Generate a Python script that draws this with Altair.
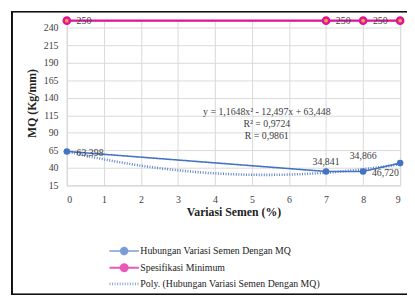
import altair as alt
import pandas as pd

# ---- data ----
variasi = [0, 7, 8, 9]
mq = [63.398, 34.841, 34.866, 46.720]
mq_labels = ["63,398", "34,841", "34,866", "46,720"]
spesifikasi = [250, 250, 250, 250]
spes_labels = ["250", "250", "250", "250"]

S1 = "Hubungan Variasi Semen Dengan MQ"
S2 = "Spesifikasi Minimum"
S3 = "Poly. (Hubungan Variasi Semen Dengan MQ)"
series_names = [S1, S2, S3]

eq_lines = ["y = 1,1648x² - 12,497x + 63,448", "R² = 0,9724", "R = 0,9861"]
eq_x = [5.4, 5.4, 5.4]
eq_y = [120, 102.5, 85]

y_ticks = [15, 40, 65, 90, 115, 140, 165, 190, 215, 240]
x_ticks = list(range(10))

BLUE = "#4472C4"
PINK = "#E0129A"
FONT = "Liberation Serif"
TXT = "#404040"

df = pd.DataFrame(
    {
        "x": variasi * 2,
        "y": mq + spesifikasi,
        "label": mq_labels + spes_labels,
        "series": [S1] * 4 + [S2] * 4,
        "idx": list(range(4)) * 2,
    }
)
df_eq = pd.DataFrame({"x": eq_x, "y": eq_y, "t": eq_lines})

PATH_LC = "M-3,0L3,0M-0.7,0A0.7,0.7,0,1,0,0.7,0A0.7,0.7,0,1,0,-0.7,0Z"
PATH_L = "M-3,0L3,0"

xs = alt.X(
    "x:Q",
    scale=alt.Scale(domain=[0, 9], nice=False),
    axis=alt.Axis(
        values=x_ticks, title="Variasi Semen (%)", format="d", tickSize=0,
        labelPadding=9, titlePadding=3, grid=True, gridColor="#D9D9D9",
        domainColor="#D9D9D9", labelFont=FONT, labelFontSize=10, labelColor=TXT,
        titleFont=FONT, titleFontSize=12, titleFontWeight="bold", titleColor="#222",
    ),
)
ys = alt.Y(
    "y:Q",
    scale=alt.Scale(domain=[15, 250], nice=False, zero=False),
    axis=alt.Axis(
        values=y_ticks, title="MQ (Kg/mm)", tickSize=0, labelPadding=9,
        titlePadding=5, grid=True, gridColor="#D9D9D9", domainColor="#D9D9D9",
        labelFont=FONT, labelFontSize=10, labelColor=TXT,
        titleFont=FONT, titleFontSize=12, titleFontWeight="bold", titleColor="#222",
    ),
)

legend = alt.Legend(
    title=None, orient="none", legendX=52, legendY=229, direction="vertical",
    labelFont=FONT, labelFontSize=10, labelColor="#222", labelOffset=10,
    symbolSize=100, rowPadding=1.5, labelLimit=400,
)
color = alt.Color(
    "series:N", scale=alt.Scale(domain=series_names, range=[BLUE, PINK, "#5B84CC"]),
    legend=legend,
)
dash = alt.StrokeDash(
    "series:N", scale=alt.Scale(domain=series_names, range=[[1, 0], [1, 0], [1, 1.6]]),
    legend=legend,
)
swidth = alt.StrokeWidth(
    "series:N", scale=alt.Scale(domain=series_names, range=[1.6, 2.6, 1.0]),
    legend=legend,
)
shape = alt.Shape(
    "series:N", scale=alt.Scale(domain=series_names, range=[PATH_LC, PATH_LC, PATH_L]),
    legend=legend,
)

base = alt.Chart(df)

poly = (
    alt.Chart(df)
    .transform_filter(alt.datum.series == S1)
    .transform_regression("x", "y", method="poly", order=2, extent=[0, 9])
    .transform_calculate(series=f"'{S3}'")
    .mark_line(clip=True)
    .encode(x=xs, y=ys, color=color, strokeDash=dash, strokeWidth=swidth)
)

lines = base.mark_line().encode(x=xs, y=ys, color=color, strokeDash=dash, strokeWidth=swidth)

pts_blue = base.transform_filter(alt.datum.series == S1).mark_point(
    filled=True, size=45, opacity=1, color=BLUE
).encode(x=xs, y=ys)
pts_pink = base.transform_filter(alt.datum.series == S2).mark_point(
    filled=True, size=40, opacity=1, fill="#F2A33A", stroke=PINK, strokeWidth=2.5
).encode(x=xs, y=ys)

phantom = base.transform_filter("false").mark_point(filled=True).encode(
    x=xs, y=ys, shape=shape, color=color
)

txt = dict(font=FONT, fontSize=10, color=TXT)
lab_pink = base.transform_filter(alt.datum.series == S2).mark_text(
    align="left", baseline="middle", dx=10, **txt
).encode(x=xs, y=ys, text="label:N")
lab0 = base.transform_filter((alt.datum.series == S1) & (alt.datum.idx == 0)).mark_text(
    align="left", baseline="middle", dx=10, dy=2, **txt
).encode(x=xs, y=ys, text="label:N")
lab1 = base.transform_filter((alt.datum.series == S1) & (alt.datum.idx == 1)).mark_text(
    align="center", baseline="middle", dy=-10, **txt
).encode(x=xs, y=ys, text="label:N")
lab2 = base.transform_filter((alt.datum.series == S1) & (alt.datum.idx == 2)).mark_text(
    align="center", baseline="middle", dy=-16, **txt
).encode(x=xs, y=ys, text="label:N")
lab3 = base.transform_filter((alt.datum.series == S1) & (alt.datum.idx == 3)).mark_text(
    align="center", baseline="middle", dx=-15, dy=10, **txt
).encode(x=xs, y=ys, text="label:N")

eq = alt.Chart(df_eq).mark_text(align="center", baseline="middle", **txt).encode(
    x=xs, y=ys, text="t:N"
)

# outer frame of the chart (decoration, as in the reference)
frame = alt.Chart(df_eq).mark_rect(
    fill=None, stroke="#111", strokeWidth=1.5
).encode(
    x=alt.value(-56), x2=alt.value(352), y=alt.value(-9.2), y2=alt.value(279.2)
)

chart = (
    alt.layer(poly, lines, pts_blue, pts_pink, phantom, lab_pink, lab0, lab1, lab2, lab3, eq, frame)
    .properties(
        width=340, height=168,
        autosize=alt.AutoSizeParams(type="none"),
        padding={"left": 60, "top": 10, "right": 7, "bottom": 112},
    )
    .configure_view(stroke=None)
    .configure(background="white")
)

chart.save("out.html", embed_options={"renderer": "svg", "actions": False})
